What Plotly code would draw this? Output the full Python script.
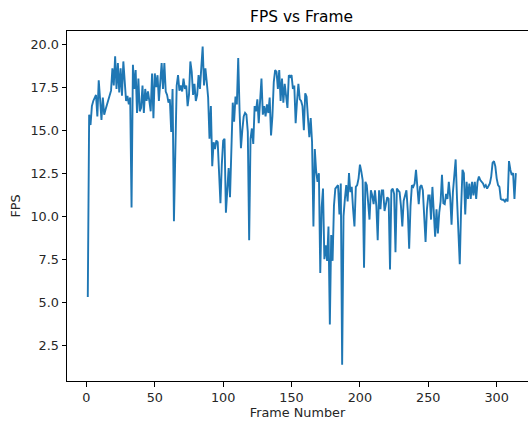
import plotly.graph_objects as go

# Frame numbers 1..314
frames = list(range(1, 315))

fps_part1 = [  # frames 1-45
    5.3, 15.9, 15.3, 16.4, 16.7, 16.9, 17.05, 15.8, 17.9, 16.8,
    15.6, 16.9, 15.9, 16.2, 16.5, 16.7, 17.0, 17.3, 18.6, 17.6,
    19.3, 17.4, 18.9, 17.2, 18.6, 17.0, 19.0, 17.8, 16.7, 17.0,
    16.5, 16.9, 10.5, 18.8, 17.4, 18.5, 16.0, 18.0, 16.1, 16.3,
    17.6, 16.0, 17.4, 16.7, 17.25,
]
fps_part2 = [  # frames 46-92
    16.7, 16.1, 18.3, 15.7, 18.3, 17.5, 18.2, 16.7, 17.8, 18.9,
    17.4, 18.9, 17.25, 17.05, 16.6, 16.8, 14.9, 17.4, 9.7, 13.7,
    17.6, 18.2, 17.3, 17.6, 17.25, 18.0, 17.4, 17.6, 16.4, 17.05,
    19.0, 18.4, 17.05, 17.7, 16.7, 17.05, 18.2, 17.4, 18.4, 19.86,
    17.6, 18.6, 17.8, 16.9, 14.5, 16.4, 12.9,
]
fps_part3 = [  # frames 93-138
    14.3, 13.9, 14.4, 14.3, 12.0, 10.75, 13.0, 14.4, 14.5, 10.2,
    11.5, 12.8, 11.1, 13.5, 16.6, 15.5, 16.95, 16.5, 19.2, 16.1,
    13.95, 15.0, 15.8, 16.0, 15.9, 14.9, 8.6, 14.5, 15.1, 14.2,
    16.4, 16.1, 16.8, 15.4, 17.0, 18.0, 15.9, 16.4, 15.8, 16.5,
    16.0, 16.9, 14.7, 15.8, 17.8, 18.5,
]
fps_part4 = [  # frames 139-165
    18.4, 17.4, 18.5, 16.7, 18.0, 16.6, 17.7, 16.9, 16.3, 18.2,
    18.1, 18.2, 17.4, 17.6, 15.4, 16.7, 17.7, 16.8, 16.7, 16.4,
    15.0, 17.15, 16.95, 15.7, 14.6, 15.7, 14.3,
]
fps_part5 = [  # frames 166-226
    9.4, 13.9, 12.6, 12.0, 12.5, 6.7, 10.5, 11.6, 7.5, 8.3,
    7.4, 9.4, 3.7, 8.9, 7.4, 10.6, 11.6, 11.7, 11.8, 10.1,
    11.9, 1.35, 10.0, 11.0, 11.8, 10.85, 12.5, 11.4, 11.7, 10.4,
    9.4, 11.7, 11.8, 12.2, 13.0, 12.6, 12.1, 7.0, 12.0, 11.8,
    11.0, 9.8, 11.5, 11.2, 10.7, 11.5, 10.6, 8.6, 11.5, 10.4,
    11.5, 11.5, 10.3, 10.85, 11.1, 11.0, 6.9, 11.5, 11.6, 11.3,
    7.9,
]
fps_part6 = [  # frames 227-269
    11.6, 11.5, 11.4, 10.6, 9.4, 10.9, 11.3, 11.5, 10.3, 8.1,
    10.6, 11.8, 11.7, 11.9, 12.7, 11.9, 10.7, 11.7, 11.8, 11.5,
    10.1, 8.5, 10.4, 11.2, 11.2, 9.8, 11.7, 9.8, 8.8, 10.4,
    9.0, 10.2, 10.85, 12.4, 10.75, 10.7, 11.3, 11.0, 12.0, 11.1,
    9.5, 11.4, 12.5,
]
fps_part7 = [  # frames 270-314
    13.3, 11.0, 9.0, 7.2, 10.5, 12.7, 12.5, 10.1, 12.0, 11.0,
    11.9, 11.0, 12.0, 11.2, 12.0, 11.0, 12.0, 12.3, 12.1, 12.0,
    11.9, 11.7, 11.8, 11.6, 11.8, 11.9, 12.3, 13.1, 13.2, 12.9,
    12.2, 11.8, 11.7, 11.0, 10.95, 10.95, 10.85, 11.0, 10.85, 13.2,
    12.7, 12.4, 12.5, 11.0, 12.5,
]
fps = fps_part1 + fps_part2 + fps_part3 + fps_part4 + fps_part5 + fps_part6 + fps_part7

y_ticks = [2.5, 5.0, 7.5, 10.0, 12.5, 15.0, 17.5, 20.0]
y_tick_labels = ["2.5", "5.0", "7.5", "10.0", "12.5", "15.0", "17.5", "20.0"]
x_ticks = [0, 50, 100, 150, 200, 250, 300]

FONT = "DejaVu Sans"

fig = go.Figure()
fig.add_trace(go.Scatter(
    x=frames[:len(fps)], y=fps, mode="lines",
    line=dict(color="#1f77b4", width=1.9),
    hoverinfo="skip", showlegend=False,
))

fig.update_layout(
    width=528, height=421,
    margin=dict(l=67, r=0, t=31, b=40, pad=0),
    paper_bgcolor="white", plot_bgcolor="white",
    font=dict(family=FONT, size=12.8, color="#262626"),
    title=dict(text="FPS vs Frame", font=dict(family=FONT, size=15.4, color="black"),
               xref="container", yref="container", x=0.571, y=0.96,
               xanchor="center", yanchor="middle"),
    showlegend=False,
)
fig.update_xaxes(
    range=[-14.2, 322.9], tickvals=x_ticks,
    showgrid=False, zeroline=False,
    showline=True, linecolor="black", linewidth=1, mirror=True,
    ticks="outside", ticklen=4.5, tickwidth=1, tickcolor="black",
    tickfont=dict(family=FONT, size=12.8, color="#262626"),
    title=dict(text="Frame Number", font=dict(family=FONT, size=12.8, color="#262626"), standoff=4),
)
fig.update_yaxes(
    range=[0.41, 20.77], tickvals=y_ticks, ticktext=y_tick_labels,
    showgrid=False, zeroline=False,
    showline=True, linecolor="black", linewidth=1, mirror=False,
    ticks="outside", ticklen=4.5, tickwidth=1, tickcolor="black",
    tickfont=dict(family=FONT, size=12.8, color="#262626"),
    title=dict(text="FPS", font=dict(family=FONT, size=12.8, color="#262626"), standoff=6),
)

fig.write_html("out.html")
